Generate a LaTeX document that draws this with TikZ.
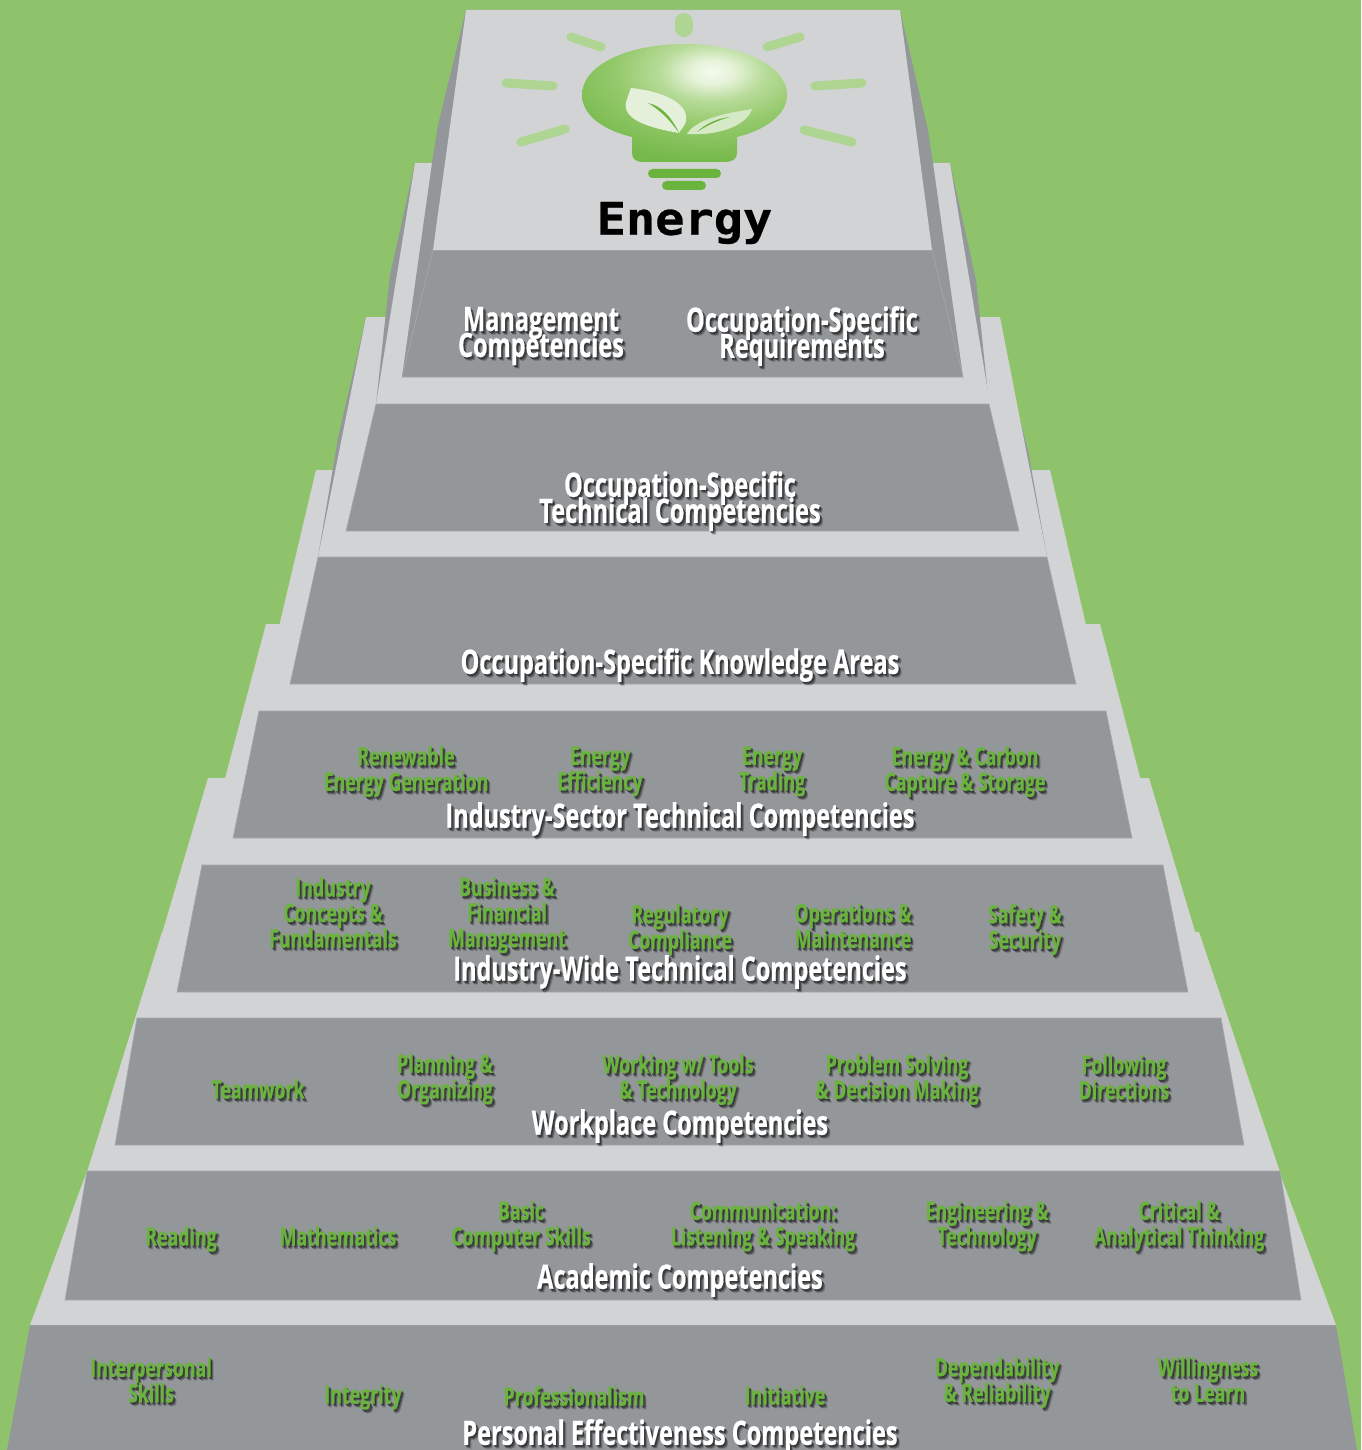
\documentclass[tikz,border=0pt]{standalone}
\usepackage{fontspec}
\newfontfamily\labfont{Open Sans}[FakeStretch=0.70,BoldFeatures={FakeBold=0.5}]
\newfontfamily\energyfont{DejaVu Sans Mono}[FakeStretch=1.08,BoldFeatures={FakeBold=0.6}]
\newcommand{\tightlines}{\lineskiplimit -60pt\relax}
\definecolor{bg}{HTML}{8FC36B}
\definecolor{lite}{HTML}{D1D3D4}
\definecolor{dark}{HTML}{94979A}
\definecolor{edgeline}{HTML}{A6A8AB}
\definecolor{leafgreen}{HTML}{6AB43E}
\definecolor{ray}{HTML}{AED592}
\definecolor{leafa}{HTML}{E4F0D9}
\definecolor{leafb}{HTML}{D6E9C7}
\pgfdeclareradialshading{bulbshade}{\pgfpoint{0bp}{0bp}}{%
 rgb(0bp)=(.96,.98,.93);rgb(2.5bp)=(.90,.95,.85);rgb(6bp)=(.72,.86,.60);
 rgb(11bp)=(.58,.79,.42);rgb(18bp)=(.47,.73,.30);rgb(25bp)=(.416,.706,.243);rgb(50bp)=(.416,.706,.243)}
\tikzset{
 litepoly/.style={fill=lite,draw=none},
 darkpoly/.style={fill=dark,draw=none},
 panel/.style={fill=dark,draw=edgeline,line width=.6pt},
 raybar/.style={draw=ray,line width=9pt,line cap=round},
 whitetext/.style={text=white,font=\labfont\bfseries\fontsize{33.6}{26}\selectfont\tightlines,align=center,inner sep=0pt},
 greentext/.style={text=leafgreen,font=\labfont\bfseries\fontsize{25.4}{25.5}\selectfont\tightlines,align=center,inner sep=0pt},
}
% \lab{name}{x}{y}{style}{text}: soft drop shadow copies, then the text
\newcommand{\lab}[5]{%
 \node[#4,text=black,text opacity=.16] (#1-s1) at ({#2+3.2},{#3+3.6}) {#5};
 \node[#4,text=black,text opacity=.26] (#1-s2) at ({#2+2.4},{#3+2.8}) {#5};
 \node[#4,text=black,text opacity=.36] (#1-s3) at ({#2+1.5},{#3+1.8}) {#5};
 \node[#4] (#1) at (#2,#3) {#5};}
\begin{document}
\begin{tikzpicture}[x=1pt,y=-1pt]
\useasboundingbox (0,0) rectangle (1361,1450);
\fill[bg] (0,0) rectangle (1361,1450);
% bottom tier
\fill[darkpoly] (30,1325) -- (1336,1325) -- (1357,1450) -- (7,1450) -- cycle;
% light tiers, lowest first, with their dark slivers
\fill[litepoly] (87,1171) -- (1279,1171) -- (1336,1325) -- (30,1325) -- cycle;
\fill[litepoly] (162,932) -- (1199,932) -- (1280,1172) -- (87,1172) -- cycle;
\fill[litepoly] (208,778) -- (1149,778) -- (1221,1018) -- (137,1018) -- cycle;
\fill[litepoly] (266,624) -- (1100,624) -- (1163,865) -- (202,865) -- cycle;
\fill[litepoly] (316,470) -- (1050,470) -- (1106,711) -- (259,711) -- cycle;
\fill[darkpoly] (366,317) -- (338,438) -- (318,557) -- (1047,557) -- (1028,450) -- (1010,383) -- (1000,317) -- cycle;
\fill[litepoly] (366,317) -- (1000,317) -- (1047,557) -- (318,557) -- cycle;
\fill[darkpoly] (415,163) -- (390,275) -- (376,404) -- (989,404) -- (976,280) -- (950,163) -- cycle;
\fill[litepoly] (415,163) -- (950,163) -- (990,404) -- (376,404) -- cycle;
% top tower
\fill[darkpoly] (466,10) -- (900,10) -- (928,130) -- (933,163) -- (963,377) -- (402,377) -- (432,163) -- (438,125) -- cycle;
% panels
\draw[panel] (433,250) -- (932,250) -- (963,377) -- (402,377) -- cycle;
\draw[panel] (376,404) -- (989,404) -- (1019,531) -- (346,531) -- cycle;
\draw[panel] (318,557) -- (1047,557) -- (1076,684) -- (290,684) -- cycle;
\draw[panel] (259,711) -- (1106,711) -- (1132,838) -- (233,838) -- cycle;
\draw[panel] (202,865) -- (1163,865) -- (1188,992) -- (177,992) -- cycle;
\draw[panel] (137,1018) -- (1221,1018) -- (1244,1145) -- (115,1145) -- cycle;
\draw[panel] (87,1171) -- (1280,1171) -- (1301,1300) -- (65,1300) -- cycle;
% top surface
\fill[litepoly] (466,10) -- (900,10) -- (932,250) -- (433,250) -- cycle;
% rays
\draw[raybar,line width=18pt] (683.5,22) -- (683.5,28);
\draw[raybar] (571,37) -- (601,47);
\draw[raybar] (767,47) -- (800,37);
\draw[raybar] (506,83) -- (553,86);
\draw[raybar] (815,86) -- (862,83);
\draw[raybar] (521,142) -- (565,129);
\draw[raybar] (804,130) -- (852,142);
% bulb
\begin{scope}
\path[clip] (684,44) .. controls (740,44) and (787,65) .. (787,95) .. controls (787,115) and (765,130) .. (737,137) -- (737,153) .. controls (737,159) and (732,162) .. (725,162) -- (643,162) .. controls (636,162) and (632,159) .. (632,153) -- (632,137) .. controls (603,130) and (582,115) .. (582,95) .. controls (582,65) and (628,44) .. (684,44) -- cycle;
\shade[shading=bulbshade] (492,-48) rectangle (932,192);
\end{scope}
\fill[leafgreen,rounded corners=4.5pt] (648,169) rectangle (721,178);
\fill[leafgreen,rounded corners=4.5pt] (662,181) rectangle (706,190);
% leaves
\fill[leafa] (631,88) .. controls (668,92) and (692,106) .. (685,124) -- (679,133) .. controls (650,128) and (622,120) .. (626,102) -- cycle;
\fill[leafgreen] (648,103) .. controls (662,106) and (672,118) .. (679,133) .. controls (670,120) and (660,110) .. (648,103) -- cycle;
\fill[leafb] (687,134) .. controls (697,117) and (735,112) .. (752,109) .. controls (747,125) and (720,136) .. (687,134) -- cycle;
\fill[leafgreen] (697,132) .. controls (705,124) and (718,118) .. (730,117) .. controls (718,120) and (706,126) .. (697,132) -- cycle;
\node[inner sep=0pt,font=\energyfont\bfseries\fontsize{45}{45}\selectfont,text=black] (energy) at (684.5,223) {Energy};
% white headings
\lab{mgmt}{541}{336}{whitetext}{Management\\Competencies}
\lab{req}{802}{336}{whitetext}{Occupation-Specific\\Requirements}
\lab{tech}{680}{501}{whitetext}{Occupation-Specific\\Technical Competencies}
\lab{know}{680}{665}{whitetext}{Occupation-Specific Knowledge Areas}
\lab{sector}{680}{819}{whitetext}{Industry-Sector Technical Competencies}
\lab{wide}{680}{972}{whitetext}{Industry-Wide Technical Competencies}
\lab{work}{680}{1126}{whitetext}{Workplace Competencies}
\lab{acad}{680}{1280}{whitetext}{Academic Competencies}
\lab{pers}{680}{1436}{whitetext}{Personal Effectiveness Competencies}
% green labels
\lab{renew}{406}{771.5}{greentext}{Renewable\\Energy Generation}
\lab{effic}{600}{771.5}{greentext}{Energy\\Efficiency}
\lab{trad}{772}{771.5}{greentext}{Energy\\Trading}
\lab{carbon}{965}{771.5}{greentext}{Energy \& Carbon\\Capture \& Storage}
\lab{conc}{333}{912.5}{greentext}{Industry\\Concepts \&\\Fundamentals}
\lab{bus}{507}{915}{greentext}{Business \&\\Financial\\Management}
\lab{reg}{680}{929.5}{greentext}{Regulatory\\Compliance}
\lab{oper}{853}{925.5}{greentext}{Operations \&\\Maintenance}
\lab{safe}{1025}{929.5}{greentext}{Safety \&\\Security}
\lab{team}{258}{1089}{greentext}{Teamwork}
\lab{plan}{445}{1079}{greentext}{Planning \&\\Organizing}
\lab{tools}{678}{1079.5}{greentext}{Working w/ Tools\\\& Technology}
\lab{prob}{897}{1079.5}{greentext}{Problem Solving\\\& Decision Making}
\lab{foll}{1124}{1077}{greentext}{Following\\Directions}
\lab{read}{181}{1239}{greentext}{Reading}
\lab{math}{338}{1236}{greentext}{Mathematics}
\lab{comp}{521}{1226}{greentext}{Basic\\Computer Skills}
\lab{comm}{763}{1226}{greentext}{Communication:\\Listening \& Speaking}
\lab{eng}{987}{1226}{greentext}{Engineering \&\\Technology}
\lab{crit}{1179}{1226}{greentext}{Critical \&\\Analytical Thinking}
\lab{inter}{151}{1380}{greentext}{Interpersonal\\Skills}
\lab{integ}{363}{1397}{greentext}{Integrity}
\lab{prof}{574}{1396}{greentext}{Professionalism}
\lab{init}{785}{1395}{greentext}{Initiative}
\lab{dep}{997}{1382.5}{greentext}{Dependability\\\& Reliability}
\lab{will}{1208}{1379.5}{greentext}{Willingness\\to Learn}
\end{tikzpicture}
\end{document}
